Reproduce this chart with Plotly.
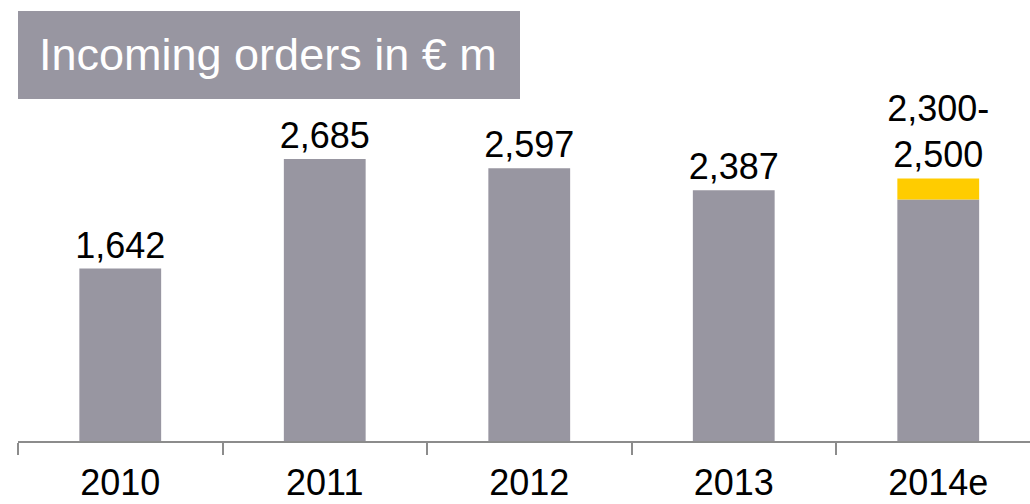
import plotly.graph_objects as go

years = ["2010", "2011", "2012", "2013", "2014e"]
orders = [1642, 2685, 2597, 2387, 2300]
order_labels = ["1,642", "2,685", "2,597", "2,387", ""]
range_low = 2300
range_high = 2500
range_label = "2,300-<br>2,500"

GRAY = "#9896A1"
YELLOW = "#FFCC00"
FONT = "Arial, Liberation Sans, sans-serif"

fig = go.Figure()
fig.add_trace(go.Bar(
    x=years, y=orders, width=0.4, marker=dict(color=GRAY, line=dict(width=0)),
    text=order_labels, textposition="outside", constraintext="none", cliponaxis=False,
    textfont=dict(family=FONT, size=36, color="#000000"), hoverinfo="skip",
))
fig.add_trace(go.Bar(
    x=[years[-1]], y=[range_high - range_low], base=[range_low], width=0.4,
    marker=dict(color=YELLOW, line=dict(width=0)),
    text=[range_label], textposition="outside", constraintext="none", cliponaxis=False,
    textfont=dict(family=FONT, size=36, color="#000000"), hoverinfo="skip",
))

W, H = 1030, 504
L, R, T, B = 18, 0, 0, 63
pw, ph = W - L - R, H - T - B

def px(x):
    return (x - L) / pw

def py(y):
    return (H - B - y) / ph

fig.add_shape(type="rect", xref="paper", yref="paper",
              x0=px(18), x1=px(520), y0=py(99), y1=py(11),
              fillcolor=GRAY, line=dict(width=0), layer="above")
fig.add_annotation(xref="paper", yref="paper", x=px(37), y=py(55),
                   xanchor="left", yanchor="middle", showarrow=False,
                   text="Incoming orders in € m",
                   font=dict(family=FONT, size=45, color="#FFFFFF"))

fig.update_layout(
    width=W, height=H, barmode="overlay", showlegend=False,
    margin=dict(l=L, r=R, t=T, b=B, pad=0, autoexpand=False),
    paper_bgcolor="white", plot_bgcolor="white",
    font=dict(family=FONT),
    xaxis=dict(type="category", categoryorder="array", categoryarray=years,
               range=[-0.5, -0.5 + pw / 204.5], automargin=False,
               tickson="boundaries", ticks="outside", ticklen=12, tickwidth=1.5,
               tickcolor="#8C8C8C", showline=True, linecolor="#8C8C8C", linewidth=2,
               showgrid=False, zeroline=False, ticklabelstandoff=9,
               tickfont=dict(family=FONT, size=36, color="#000000")),
    yaxis=dict(range=[0, 4200], visible=False, showgrid=False, zeroline=False),
)

fig.write_html("out.html", config={"displayModeBar": False},
               post_script="document.body.style.margin='0px';document.body.style.overflow='hidden';")
